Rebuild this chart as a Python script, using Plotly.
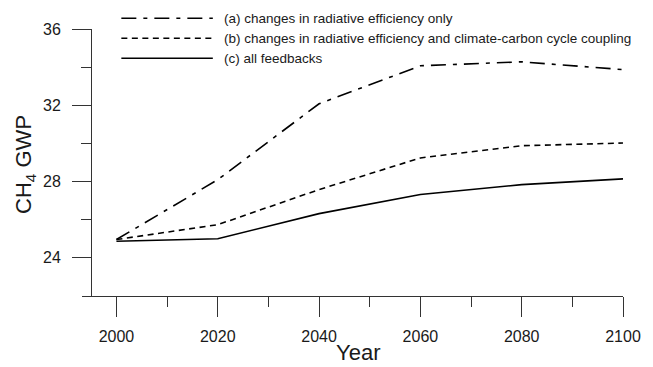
import plotly.graph_objects as go

years = [2000, 2020, 2040, 2060, 2080, 2100]
gwp_a = [24.96, 28.1, 32.08, 34.07, 34.28, 33.87]
gwp_b = [24.96, 25.74, 27.58, 29.24, 29.88, 30.02]
gwp_c = [24.87, 25.0, 26.32, 27.32, 27.84, 28.14]
labels = ["(a) changes in radiative efficiency only",
          "(b) changes in radiative efficiency and climate-carbon cycle coupling",
          "(c) all feedbacks"]
dashes = ["15px,7px,4px,7px", "6px,4.5px", "solid"]

FONT = "Liberation Sans, Arial, Helvetica, sans-serif"
INK = "#1a1a1a"
XMIN, XMAX = 1993.2, 2100
YAX = 1995

fig = go.Figure()
for vals, d, name in zip([gwp_a, gwp_b, gwp_c], dashes, labels):
    fig.add_trace(go.Scatter(x=years, y=vals, mode="lines", name=name,
                             line=dict(color="black", width=1.6, dash=d),
                             showlegend=False))

W, H = 653, 367
ml, mr, mt, mb = 82, 21, 29, 71
pw, ph = W - ml - mr, H - mt - mb

def px2paper_x(px):
    return (px - ml) / pw

def px2paper_y(py):
    return 1 - (py - mt) / ph

# manual legend (long samples as in the reference)
rows = [18.3, 38.3, 58.3]
for name, d, ry in zip(labels, dashes, rows):
    fig.add_shape(type="line", xref="paper", yref="paper",
                  x0=px2paper_x(122), x1=px2paper_x(215),
                  y0=px2paper_y(ry), y1=px2paper_y(ry),
                  line=dict(color="black", width=1.6, dash=d))
    fig.add_annotation(text=name, xref="paper", yref="paper",
                       x=px2paper_x(224), y=px2paper_y(ry),
                       xanchor="left", yanchor="middle", showarrow=False,
                       font=dict(family=FONT, size=13.5, color=INK))

# axis titles
fig.add_annotation(text="CH<sub>4</sub> GWP", xref="paper", yref="paper",
                   x=px2paper_x(24), y=px2paper_y(164), textangle=-90,
                   xanchor="center", yanchor="middle", showarrow=False,
                   font=dict(family=FONT, size=22, color=INK))
fig.add_annotation(text="Year", xref="paper", yref="paper",
                   x=px2paper_x(363), y=px2paper_y(366),
                   xanchor="center", yanchor="bottom", showarrow=False,
                   borderpad=0,
                   font=dict(family=FONT, size=22, color=INK))

fig.update_layout(
    width=W, height=H,
    margin=dict(l=ml, r=mr, t=mt, b=mb, pad=0),
    paper_bgcolor="white", plot_bgcolor="white",
    font=dict(family=FONT, size=16, color=INK),
    xaxis=dict(range=[XMIN, XMAX], tickvals=[2000, 2020, 2040, 2060, 2080, 2100],
               showgrid=False, zeroline=False, showline=True,
               linecolor="#333", linewidth=1,
               ticks="outside", ticklen=20, tickcolor="#333", tickwidth=1,
               ticklabelstandoff=6,
               minor=dict(tickvals=[2010, 2030, 2050, 2070, 2090], ticks="outside",
                          ticklen=10, tickcolor="#333", tickwidth=1, showgrid=False),
               tickfont=dict(size=16, color=INK)),
    yaxis=dict(range=[22, 36], tickvals=[24, 28, 32, 36],
               anchor="free", position=(YAX - XMIN) / (XMAX - XMIN),
               showgrid=False, zeroline=False, showline=True,
               linecolor="#333", linewidth=1,
               ticks="outside", ticklen=19, tickcolor="#333", tickwidth=1,
               ticklabelstandoff=8,
               minor=dict(tickvals=[26, 30, 34], ticks="outside",
                          ticklen=10, tickcolor="#333", tickwidth=1, showgrid=False),
               tickfont=dict(size=16, color=INK)),
)

fig.write_html("out.html")
